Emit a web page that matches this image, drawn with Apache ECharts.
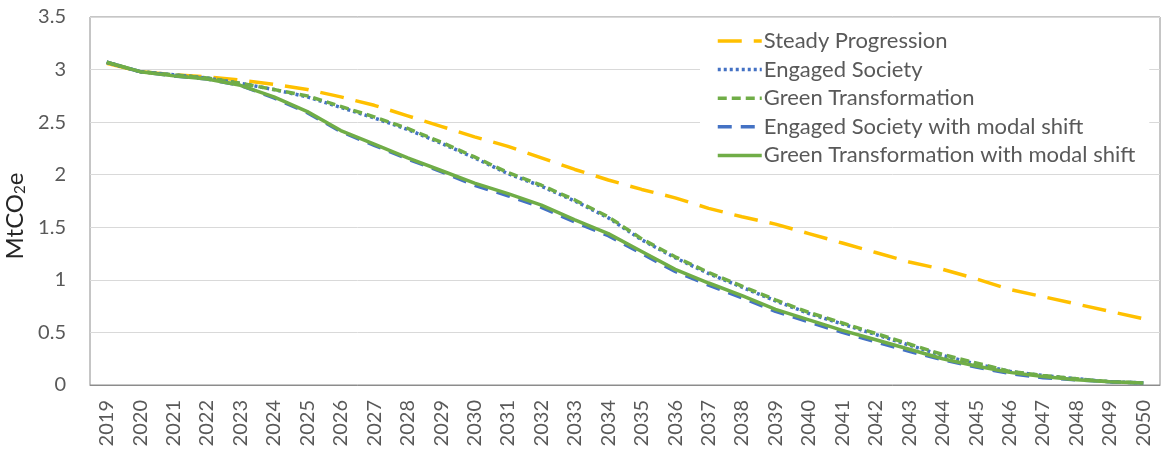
<!DOCTYPE html>
<html>
<head>
<meta charset="utf-8">
<script src="https://cdn.jsdelivr.net/npm/echarts@6/dist/echarts.min.js"></script>
<style>
  html, body { margin: 0; padding: 0; background: #fff; }
  #chart { width: 1161px; height: 454px; }
</style>
</head>
<body>
<div id="chart"></div>
<script>
// Years on the category axis
const years = [];
for (let y = 2019; y <= 2050; y++) years.push(String(y));

// Emissions by scenario, MtCO2e
const steadyProgression = [3.06, 2.98, 2.95, 2.93, 2.90, 2.86, 2.81, 2.74, 2.66, 2.56, 2.46, 2.36, 2.27, 2.16, 2.05, 1.95, 1.86, 1.78, 1.68, 1.60, 1.53, 1.44, 1.35, 1.26, 1.17, 1.10, 1.01, 0.91, 0.84, 0.77, 0.70, 0.63];
const engagedSociety = [3.07, 2.98, 2.95, 2.92, 2.87, 2.81, 2.74, 2.64, 2.54, 2.43, 2.30, 2.16, 2.01, 1.89, 1.75, 1.59, 1.38, 1.21, 1.06, 0.93, 0.80, 0.68, 0.58, 0.48, 0.38, 0.28, 0.20, 0.13, 0.09, 0.06, 0.03, 0.02];
const greenTransformation = [3.07, 2.98, 2.95, 2.92, 2.87, 2.81, 2.75, 2.65, 2.55, 2.44, 2.31, 2.17, 2.02, 1.90, 1.76, 1.60, 1.39, 1.22, 1.07, 0.94, 0.81, 0.69, 0.59, 0.49, 0.39, 0.29, 0.21, 0.13, 0.09, 0.06, 0.03, 0.02];
const engagedModal = [3.07, 2.98, 2.94, 2.91, 2.85, 2.73, 2.59, 2.41, 2.28, 2.15, 2.03, 1.90, 1.80, 1.69, 1.55, 1.42, 1.25, 1.08, 0.95, 0.83, 0.70, 0.60, 0.50, 0.41, 0.32, 0.24, 0.17, 0.11, 0.07, 0.05, 0.03, 0.02];
const greenModal = [3.07, 2.98, 2.94, 2.91, 2.85, 2.74, 2.60, 2.42, 2.29, 2.16, 2.04, 1.92, 1.82, 1.71, 1.57, 1.44, 1.27, 1.10, 0.97, 0.85, 0.72, 0.62, 0.52, 0.43, 0.34, 0.25, 0.18, 0.12, 0.08, 0.05, 0.03, 0.02];

const FONT = 'Lato';
const TEXT = '#595959';

function line(name, data, color, type) {
  return {
    name: name,
    type: 'line',
    data: data,
    symbol: 'none',
    smooth: false,
    lineStyle: { color: color, width: 3.5, type: type, cap: 'butt' },
    itemStyle: { color: color },
    emphasis: { disabled: true }
  };
}

const chart = echarts.init(document.getElementById('chart'), null, { renderer: 'canvas' });
chart.setOption({
  animation: false,
  backgroundColor: '#fff',
  grid: {
    left: 90, right: 1, top: 17, bottom: 69,
    outerBoundsMode: 'none',
    containLabel: false,
    show: true, borderColor: '#8c8c8c', borderWidth: 1, backgroundColor: 'transparent'
  },
  legend: {
    orient: 'vertical',
    left: 700, top: 22,
    padding: [8, 14, 6, 16],
    backgroundColor: '#fff',
    itemWidth: 44, itemHeight: 14, itemGap: 6.6,
    itemStyle: { opacity: 0 },
    lineStyle: { width: 3.5 },
    textStyle: { fontFamily: FONT, fontSize: 22, lineHeight: 22, color: TEXT, padding: [0, 0, 0, -3] },
    data: ['Steady Progression', 'Engaged Society', 'Green Transformation',
           'Engaged Society with modal shift', 'Green Transformation with modal shift']
  },
  xAxis: {
    type: 'category',
    data: years,
    boundaryGap: true,
    axisLine: { lineStyle: { color: '#8c8c8c', width: 1 } },
    axisTick: { show: false },
    axisLabel: { interval: 0, rotate: 90, fontFamily: FONT, fontSize: 20, color: TEXT, margin: 15 }
  },
  yAxis: {
    type: 'value',
    min: 0, max: 3.5, interval: 0.5,
    name: 'MtCO{sub|2}e',
    nameLocation: 'middle',
    nameGap: 44,
    nameRotate: 90,
    nameTextStyle: {
      fontFamily: FONT, fontSize: 24, color: '#262626',
      padding: [0, 30, 0, 0],
      rich: { sub: { fontFamily: FONT, fontSize: 15, color: '#262626', verticalAlign: 'bottom', padding: [9, 0, 0, 0] } }
    },
    axisLine: { show: false },
    axisTick: { show: false },
    splitLine: { lineStyle: { color: '#d9d9d9', width: 1 } },
    axisLabel: { fontFamily: FONT, fontSize: 20, color: TEXT, margin: 24 }
  },
  series: [
    line('Steady Progression', steadyProgression, '#FFC000', [24, 12]),
    line('Engaged Society', engagedSociety, '#4472C4', [3, 3]),
    line('Green Transformation', greenTransformation, '#70AD47', [9, 5]),
    line('Engaged Society with modal shift', engagedModal, '#4472C4', [14, 9]),
    line('Green Transformation with modal shift', greenModal, '#70AD47', 'solid')
  ]
});
</script>
</body>
</html>
